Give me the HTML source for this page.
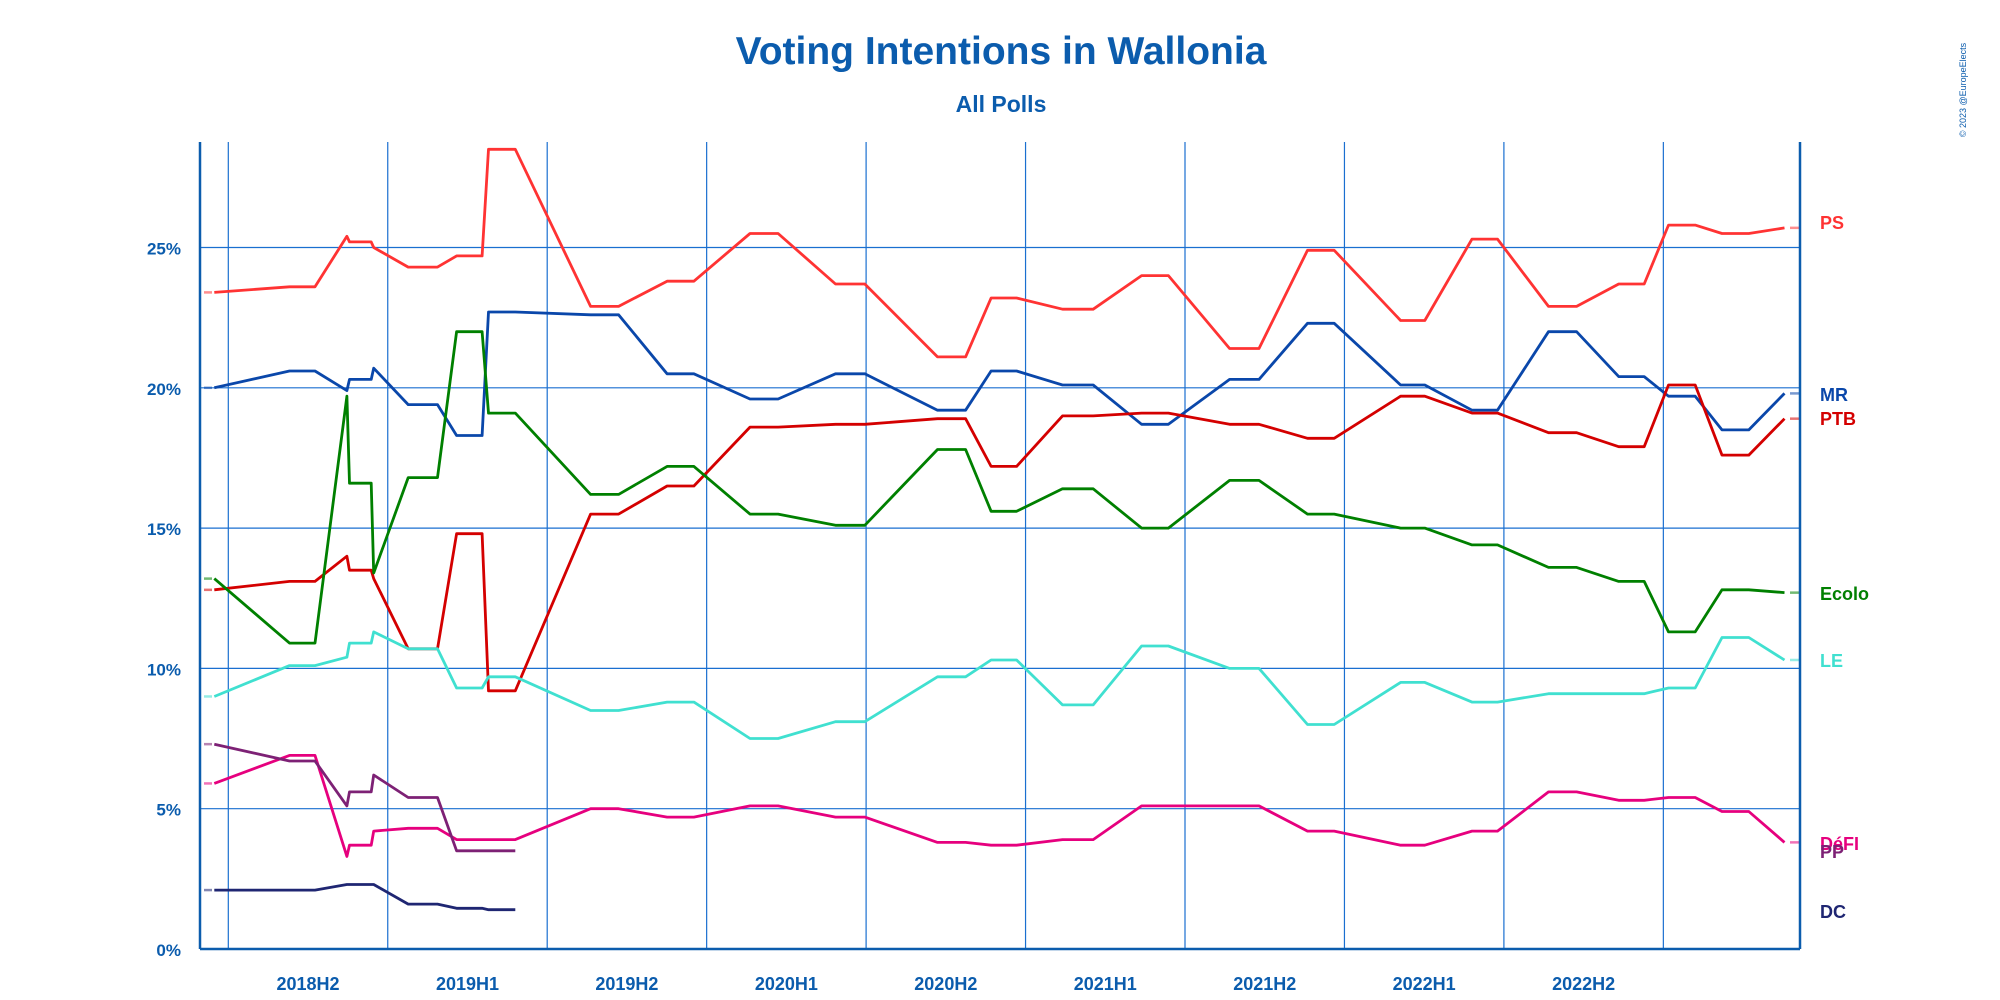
<!DOCTYPE html>
<html><head><meta charset="utf-8"><style>
body{margin:0;background:#fff}
svg{display:block;font-family:"Liberation Sans Narrow","Liberation Sans",sans-serif}
</style></head><body>
<svg id="chart" width="2000" height="1000" viewBox="0 0 2000 1000">
<text x="1001" y="64" text-anchor="middle" font-size="39" font-weight="bold" fill="#0b5cad">Voting Intentions in Wallonia</text>
<text x="1001" y="112" text-anchor="middle" font-size="23" font-weight="bold" fill="#0b5cad">All Polls</text>
<text transform="translate(1966,90) rotate(-90)" font-size="9" fill="#0b5cad" text-anchor="middle">© 2023 @EuropeElects</text>
<g id="grid"></g>
<g id="series"></g>
<g id="axes"></g>
</svg>
<script>
const pollStart=[2018.456,2018.692,2018.872,2018.88,2018.956,2019.064,2019.216,2019.316,2019.636,2019.876,2020.136,2020.404,2020.724,2020.892,2021.116,2021.364,2021.64,2021.884,2022.176,2022.40,2022.64,2022.86,2023.016,2023.184,2023.38];
const pollEnd=[2018.456,2018.772,2018.872,2018.948,2018.956,2019.156,2019.296,2019.40,2019.724,2019.96,2020.224,2020.496,2020.812,2020.972,2021.212,2021.448,2021.732,2021.968,2022.252,2022.48,2022.728,2022.94,2023.10,2023.268,2023.38];
const PS=[23.4,23.6,25.4,25.2,25.0,24.3,24.7,28.5,22.9,23.8,25.5,23.7,21.1,23.2,22.8,24.0,21.4,24.9,22.4,25.3,22.9,23.7,25.8,25.5,25.7];
const MR=[20.0,20.6,19.9,20.3,20.7,19.4,18.3,22.7,22.6,20.5,19.6,20.5,19.2,20.6,20.1,18.7,20.3,22.3,20.1,19.2,22.0,20.4,19.7,18.5,19.8];
const PTB=[12.8,13.1,14.0,13.5,13.2,10.7,14.8,9.2,15.5,16.5,18.6,18.7,18.9,17.2,19.0,19.1,18.7,18.2,19.7,19.1,18.4,17.9,20.1,17.6,18.9];
const Ecolo=[13.2,10.9,19.7,16.6,13.4,16.8,22.0,19.1,16.2,17.2,15.5,15.1,17.8,15.6,16.4,15.0,16.7,15.5,15.0,14.4,13.6,13.1,11.3,12.8,12.7];
const LE=[9.0,10.1,10.4,10.9,11.3,10.7,9.3,9.7,8.5,8.8,7.5,8.1,9.7,10.3,8.7,10.8,10.0,8.0,9.5,8.8,9.1,9.1,9.3,11.1,10.3];
const DEFI=[5.9,6.9,3.3,3.7,4.2,4.3,3.9,3.9,5.0,4.7,5.1,4.7,3.8,3.7,3.9,5.1,5.1,4.2,3.7,4.2,5.6,5.3,5.4,4.9,3.8];
const PP=[7.3,6.7,5.1,5.6,6.2,5.4,3.5,3.5,null,null,null,null,null,null,null,null,null,null,null,null,null,null,null,null,null];
const DC=[2.1,2.1,2.3,2.3,2.3,1.6,1.45,1.4,null,null,null,null,null,null,null,null,null,null,null,null,null,null,null,null,null];
const yTicks=[0,5,10,15,20,25];
const periodLabels=["2018H2","2019H1","2019H2","2020H1","2020H2","2021H1","2021H2","2022H1","2022H2"];
const periodStarts=[2018.5,2019.0,2019.5,2020.0,2020.5,2021.0,2021.5,2022.0,2022.5];

const L=200,R=1800,T=142,B=949;
function xS(t){return 228.3+(t-2018.5)*318.9;}
function yS(v){return B-v*28.06;}
const NS="http://www.w3.org/2000/svg";
function mk(tag,attrs,parent){const e=document.createElementNS(NS,tag);for(const k in attrs)e.setAttribute(k,attrs[k]);parent.appendChild(e);return e;}
const grid=document.getElementById('grid'),axes=document.getElementById('axes'),ser=document.getElementById('series');
yTicks.forEach(v=>{
  if(v>0){const l=mk('line',{x1:L,x2:R,y1:yS(v),y2:yS(v),stroke:'#1a6fd0','stroke-width':1.2},grid);
  
  }
  const t=mk('text',{x:181,y:yS(v)+7,'text-anchor':'end','font-size':17,'font-weight':'bold',fill:'#0b5cad'},axes);
  t.textContent=v+'%';
  
  
});
for(let t=2018.5;t<=2023.01;t+=0.5){
  const l=mk('line',{x1:xS(t),x2:xS(t),y1:T,y2:B,stroke:'#1a6fd0','stroke-width':1.2},grid);
  
  
}
periodLabels.forEach((p,i)=>{
  const t=mk('text',{x:xS(periodStarts[i]+0.25),y:990,'text-anchor':'middle','font-size':18,'font-weight':'bold',fill:'#0b5cad'},axes);
  t.textContent=p;
  
  
});
[[L,T,L,B],[R,T,R,B],[L,B,R,B]].forEach((c,i)=>{
  const l=mk('line',{x1:c[0],y1:c[1],x2:c[2],y2:c[3],stroke:'#0b5cad','stroke-width':2.5},axes);
  
  
});
const series=[
 ['PS',PS,'#ff3333',222],['MR',MR,'#0a47aa',394],['PTB',PTB,'#d40000',418],
 ['Ecolo',Ecolo,'#008000',593],['LE',LE,'#40e0d0',660],['DéFI',DEFI,'#e6007e',843],
 ['PP',PP,'#7d2175',851],['DC',DC,'#1f2672',911]
];
series.forEach(([name,vals,col,ly])=>{
  let pts=[];
  vals.forEach((v,i)=>{if(v==null)return;
    pts.push([xS(pollStart[i]),yS(v)]);
    if(pollEnd[i]!==pollStart[i])pts.push([xS(pollEnd[i]),yS(v)]);});
  const p=mk('polyline',{points:pts.map(q=>q[0].toFixed(1)+','+q[1].toFixed(1)).join(' '),fill:'none',stroke:col,'stroke-width':2.8,'stroke-linejoin':'round'},ser);
  
  
  const f=mk('line',{x1:204,x2:212,y1:pts[0][1],y2:pts[0][1],stroke:col,'stroke-width':2.5,opacity:0.55},ser);
  
  
  const last=vals.length-1;
  if(vals[last]!=null){
    const e=mk('line',{x1:1790,x2:1800,y1:yS(vals[last]),y2:yS(vals[last]),stroke:col,'stroke-width':2.5,opacity:0.55},ser);
    
    
  }
  const t=mk('text',{x:1820,y:ly+7,'font-size':18,'font-weight':'bold',fill:col},axes);
  t.textContent=name;
  
  
});
</script>
</body></html>
